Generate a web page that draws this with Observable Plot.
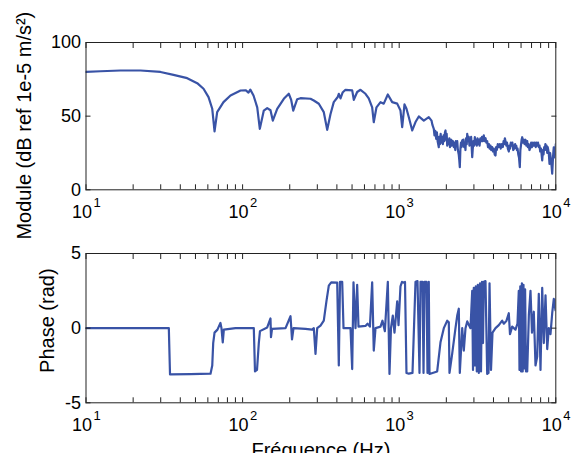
<!DOCTYPE html>
<html>
<head>
<meta charset="utf-8">
<script src="https://cdn.jsdelivr.net/npm/d3@7"></script>
<script src="https://cdn.jsdelivr.net/npm/@observablehq/plot@0.6"></script>
<style>
  body { margin: 0; background: #fff; }
  #chart { position: relative; width: 577px; height: 461px; overflow: hidden; background: #fff; }
  #chart svg { position: absolute; left: 0; }
  #cut { position: absolute; left: 0; top: 453px; width: 577px; height: 8px; background: #fff; }
</style>
</head>
<body>
<div id="chart"></div>
<script>
// ---- Data ----
const magFreq = [10, 12.4, 16.6, 22.3, 29.9, 36.2, 44.3, 51.3, 56.3, 60.6,
  64, 66.2, 68.8, 75.5, 83.7, 97, 105, 109, 112, 117.4,
  124, 128.8, 136.6, 143.6, 150.7, 155.9, 166.3, 183.3, 197.2, 204.3,
  210.5, 223.2, 234.2, 271.4, 284.9, 306.7, 330, 347, 364, 382,
  405, 411.5, 422, 435, 454, 501, 513, 539, 566, 609,
  639, 672, 688, 716, 760, 797, 846, 902, 971, 1019,
  1045, 1081, 1113, 1152, 1211, 1271, 1334, 1436, 1545, 1608,
  1630, 1663, 1680, 1700, 1723, 1740, 1760, 1790, 1800, 1820,
  1840, 1860, 1882, 1900, 1920, 1940, 1960, 1976, 1990, 2010,
  2026, 2045, 2060, 2090, 2110, 2127, 2150, 2170, 2200, 2233,
  2260, 2280, 2300, 2320, 2347, 2370, 2400, 2420, 2438, 2460,
  2480, 2500, 2526, 2550, 2570, 2600, 2624, 2650, 2670, 2700,
  2719, 2750, 2780, 2810, 2853, 2880, 2900, 2926, 2950, 2980,
  3010, 3040, 3070, 3100, 3130, 3160, 3190, 3224, 3260, 3300,
  3340, 3380, 3420, 3469, 3510, 3560, 3600, 3647, 3690, 3740,
  3780, 3828, 3870, 3920, 3970, 4019, 4070, 4121, 4160, 4200,
  4260, 4325, 4390, 4450, 4520, 4587, 4640, 4680, 4730, 4773,
  4830, 4880, 4940, 5010, 5060, 5100, 5160, 5213, 5280, 5350,
  5400, 5450, 5500, 5528, 5590, 5650, 5700, 5760, 5820, 5891,
  5940, 5990, 6050, 6102, 6170, 6250, 6320, 6400, 6480, 6568,
  6630, 6700, 6790, 6893, 6960, 7050, 7140, 7236, 7330, 7450,
  7520, 7600, 7700, 7788, 7870, 7950, 8050, 8188, 8280, 8350,
  8430, 8509, 8580, 8650, 8730, 8814, 8880, 8950, 9030, 9117,
  9200, 9300, 9400, 9484, 9560, 9600, 9650, 9710, 9780, 9850,
  9920, 10000];
const magDb = [80, 80.5, 81, 81, 80, 78, 75.8, 72.4, 68.6, 62.9,
  55, 39.6, 52.7, 59.5, 64, 67.4, 67.5, 66, 68, 64,
  56, 41.4, 53.8, 55.5, 54, 47, 55, 61.8, 65.2, 61,
  53.8, 61.5, 62.2, 61.8, 60.6, 58.4, 52.7, 40.7, 51.3, 59.5,
  63, 65.2, 62, 66, 67.9, 67.5, 61.1, 66.4, 67.9, 65.2,
  62, 56, 45.9, 56, 59.5, 58.5, 64.7, 59.5, 58.5, 53.8,
  42.5, 58, 55, 49.3, 40.3, 46, 49.8, 47, 49.3, 47,
  44, 41.4, 37, 40, 34.6, 39, 33, 28.9, 36, 31,
  38, 32, 35.7, 31, 37, 33, 39, 40.3, 34, 38,
  30, 34, 31, 35, 29, 31, 34, 30, 33, 29,
  32, 27, 33, 30, 33, 27, 24, 20, 15.3, 28,
  32, 29, 33.5, 30, 34, 29, 31, 27, 35, 31,
  38, 33, 36, 30, 32, 36, 30, 22.1, 28, 33,
  30, 35.7, 31, 34, 30, 35, 31, 34, 30, 35,
  33, 36, 33, 36.9, 33, 35, 32, 33, 29, 31,
  28, 30, 27, 29, 26, 28, 24, 23.3, 29, 27,
  31, 29, 31, 28, 31, 29, 33, 31, 35, 33,
  30, 32, 28, 26, 30, 28, 32, 30, 32, 27,
  30, 28, 31, 29, 30, 27, 28, 24, 22, 15.3,
  27, 30, 34, 35.7, 32, 34, 31, 34, 30, 33,
  29, 31, 27, 29, 32, 29, 32, 30, 32, 29,
  32, 30, 32, 29, 30, 26, 28, 19.9, 27, 24,
  29, 27, 31, 28, 30, 25, 29, 27, 24, 17.6,
  25, 21, 16, 10.9, 18, 22, 26, 28.9, 22, 27,
  24, 31];

const phaseFreq = [10, 33.8, 34.4, 46.5, 62.4, 64.0, 64.9, 66.2, 69.1, 72.2,
  73.3, 74.7, 75.9, 90.1, 117.9, 120, 123.6, 126.9, 129.1, 143.6,
  150.7, 151.8, 154.1, 188, 202.3, 206.8, 211.4, 252, 278.2, 285,
  292.1, 299.5, 314.4, 330, 343.5, 355.2, 368, 401.9, 411.5, 418.8,
  432.5, 441, 488.7, 501, 510.7, 526, 539, 549.7, 609, 627.7,
  650, 672, 688, 706, 760, 782, 810, 846, 867, 886,
  910, 933, 971, 990, 1019, 1042, 1065, 1089, 1113, 1152,
  1216, 1271, 1309, 1348, 1368, 1409, 1430, 1451, 1494, 1516,
  1545, 1561, 1748, 1835, 1927, 2026, 2074, 2095, 2180, 2288,
  2347, 2402, 2438, 2526, 2585, 2651, 2719, 2853, 2926, 2960,
  2995, 3040, 3084, 3130, 3177, 3224, 3281, 3330, 3379, 3428,
  3469, 3557, 3647, 3718, 3774, 3857, 3943, 4121, 4325, 4546,
  4655, 4844, 5010, 5099, 5266, 5528, 5692, 5803, 5864, 5933,
  6003, 6074, 6146, 6218, 6294, 6368, 6453, 6568, 6730, 6893,
  7047, 7236, 7420, 7607, 7788, 7986, 8188, 8384, 8596, 8814,
  9021, 9251, 9484, 9710, 9955, 10000];
const phaseRad = [0, 0, -3.1, -3.08, -3.05, -2.5, -1.0, -0.3, -0.1, 0.35,
  0, -0.95, -0.1, 0, 0, -2.9, -2.8, -1.0, -0.2, 0.05,
  0.65, -0.6, -0.05, 0, 0.8, -0.75, 0, -0.05, -0.1, 0,
  -1.73, 0, 0.17, 0.5, 1.84, 2.85, 3.07, 3.05, -2.5, 3.1,
  3.1, 0, 0, -2.74, 3.07, 0, 2.9, 0.1, 0.15, 0.3,
  0.1, 3.07, -1.5, 0, 0.1, 0.5, -0.2, 3.1, -3.07, 0,
  0.84, -0.3, 1.8, 0.2, 2.8, 3.1, 3.05, 3.1, -3.0, -3.05,
  -3.0, 3.1, 3.15, -3.0, 3.1, 3.1, -3.0, 3.1, 3.1, -3.0,
  3.1, -3.07, -2.9, -0.95, 0, 0.5, 0.4, -3.0, -1.7, 0,
  0.84, 1.3, -3.0, 0, -1.5, 0, 0.45, 0, 2.5, -2.8,
  2.7, -2.5, 2.8, -2.9, 2.9, -3.0, 3.0, -2.9, 3.1, -1.0,
  3.1, 3.15, -3.07, -3.0, 3.0, -2.8, -0.3, 0, 0.2, 0.5,
  0.3, 0.5, 1.0, -0.4, 0.1, -0.1, 0.3, 2.5, -2.8, 2.8,
  -2.9, 3.0, -2.9, 2.9, -2.7, 2.6, -2.9, -2.9, 0.9, 2.5,
  -0.3, 1.1, -2.5, -1.9, 2.3, -2.8, 2.7, -1.0, 2.2, -1.4,
  0, -0.4, 1.0, 1.96, 1.2, 1.9];

const xDecades = [10, 100, 1000, 10000];
const xExponents = ["1", "2", "3", "4"];
const xMinorTicks = [10, 20, 30, 40, 50, 60, 70, 80, 90, 100, 200, 300, 400, 500, 600, 700, 800, 900,
  1000, 2000, 3000, 4000, 5000, 6000, 7000, 8000, 9000, 10000];
const moduleTicks = [0, 50, 100];
const phaseTicks = [-5, 0, 5];
const moduleLabel = "Module (dB ref 1e-5 m/s²)";
const phaseLabel = "Phase (rad)";
const freqLabel = "Fréquence (Hz)";

// ---- Styling ----
const lineColor = "#3953a6";
const axisColor = "#222";
const font = "'Liberation Sans', Arial, Helvetica, sans-serif";

const magData = magFreq.map((f, i) => ({f, v: magDb[i]}));
const phaseData = phaseFreq.map((f, i) => ({f, v: phaseRad[i]}));

function panel({data, yDomain, yTicks, height, marginTop, marginBottom, ylabel, ylabelDx, ylabelDy, xlabel}) {
  const marks = [
    Plot.line(data, {x: "f", y: "v", stroke: lineColor, strokeWidth: 2.2, clip: true}),
    Plot.frame({stroke: axisColor, strokeWidth: 1}),
    Plot.axisX({anchor: "bottom", ticks: xMinorTicks, tickSize: -5, fill: "none", stroke: axisColor, label: null}),
    Plot.axisX({anchor: "top", ticks: xMinorTicks, tickSize: -5, fill: "none", stroke: axisColor, label: null}),
    Plot.axisY({anchor: "left", ticks: yTicks, tickSize: -5, fill: "none", stroke: axisColor, label: null}),
    Plot.axisY({anchor: "right", ticks: yTicks, tickSize: -5, fill: "none", stroke: axisColor, label: null}),
    Plot.axisY({anchor: "left", ticks: yTicks, tickSize: 0, tickPadding: 5, stroke: "none", fill: "#000",
      tickFormat: d => String(d), fontSize: 18, label: null}),
    Plot.axisX({anchor: "bottom", ticks: xDecades, tickSize: 0, tickPadding: 15, stroke: "none", fill: "#000",
      tickFormat: () => "10", dx: -4, fontSize: 18, label: null}),
    Plot.axisX({anchor: "bottom", ticks: xDecades, tickSize: 0, tickPadding: 8, stroke: "none", fill: "#000",
      tickFormat: d => xExponents[xDecades.indexOf(d)], dx: 11, fontSize: 13, label: null}),
    Plot.text([ylabel], {frameAnchor: "left", textAnchor: "middle", rotate: -90, dx: ylabelDx, dy: ylabelDy,
      fontSize: 20, fill: "#000"})
  ];
  if (xlabel) {
    marks.push(Plot.text([xlabel], {frameAnchor: "bottom", textAnchor: "middle", lineAnchor: "top", dy: 40,
      fontSize: 20, fill: "#000"}));
  }
  return Plot.plot({
    width: 577,
    height,
    marginLeft: 85.5,
    marginRight: 21.7,
    marginTop,
    marginBottom,
    style: {fontFamily: font, color: "#000", background: "transparent", overflow: "visible"},
    x: {type: "log", domain: [10, 10000]},
    y: {domain: yDomain},
    marks
  });
}

const topPanel = panel({data: magData, yDomain: [0, 100], yTicks: moduleTicks, height: 230,
  marginTop: 42, marginBottom: 40.7, ylabel: moduleLabel, ylabelDx: -61.5, ylabelDy: 9.5});
const bottomPanel = panel({data: phaseData, yDomain: [-5, 5], yTicks: phaseTicks, height: 231,
  marginTop: 23, marginBottom: 58.7, ylabel: phaseLabel, ylabelDx: -38.5, ylabelDy: -7.5, xlabel: freqLabel});

const chartDiv = document.getElementById("chart");
topPanel.style.top = "0px";
bottomPanel.style.top = "230px";
chartDiv.appendChild(topPanel);
chartDiv.appendChild(bottomPanel);
const cutDiv = document.createElement("div");
cutDiv.id = "cut";
chartDiv.appendChild(cutDiv);
</script>
</body>
</html>
